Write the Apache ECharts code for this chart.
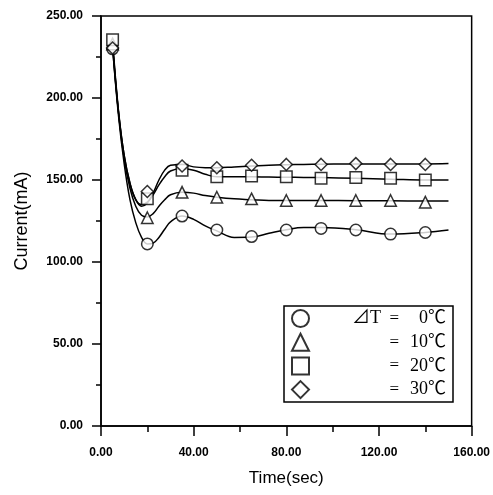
<!DOCTYPE html>
<html>
<head>
<meta charset="utf-8">
<script src="https://cdn.jsdelivr.net/npm/echarts@6/dist/echarts.min.js"></script>
<style>
html,body{margin:0;padding:0;background:#fff;}
#chart{width:493px;height:495px;}
</style>
</head>
<body>
<div id="chart"></div>
<script>
// Measured points (markers)
var times = [5, 20, 35, 50, 65, 80, 95, 110, 125, 140];
var cur0  = [230, 111, 128, 119.5, 115.5, 119.5, 120.5, 119.5, 117, 118];
var cur10 = [233, 127, 142.5, 139.5, 138.5, 137.5, 137.5, 137.5, 137.5, 136.5];
var cur20 = [235.5, 138.5, 156, 152, 152.5, 152, 151, 151.5, 151, 150];
var cur30 = [230.5, 143, 158.5, 157.5, 159, 159.5, 159.5, 160, 159.5, 159.5];

// Fitted curves
var fitT   = [5, 7.5, 10, 12.5, 15, 17.5, 20, 22.5, 25, 27.5, 30, 35, 40, 45, 50, 57.5, 65, 72.5, 80, 87.5, 95, 110, 125, 140, 150];
var fit0   = [231, 190, 160, 138, 124, 115, 111, 111.5, 115, 120, 124.5, 128, 126, 122, 119, 115, 115.2, 117.5, 119.7, 121, 121, 119.7, 117, 118, 119.5];
var fit10  = [233, 192, 163, 145, 134, 128.5, 127.5, 129.5, 134, 138, 141, 142.5, 142, 140.5, 139.5, 138.5, 138, 137.5, 137.5, 137.5, 137.5, 137.4, 137.3, 137.2, 137.2];
var fit20  = [235, 193, 165, 148, 138, 135, 136.5, 141, 147, 152, 155.5, 157, 156, 153.5, 152, 152, 152, 151.8, 151.7, 151.6, 151.5, 151, 150.5, 150, 150];
var fit30  = [231, 192, 165, 148, 138, 134, 136, 142, 150, 156, 159, 159.5, 158, 157.5, 157.5, 158, 158.5, 159, 159.3, 159.5, 159.6, 159.8, 159.8, 159.8, 160];

var names = ['0℃', '10℃', '20℃', '30℃'];
var symbols = ['circle', 'triangle', 'rect', 'diamond'];
var xTicks = {min: 0, max: 160, interval: 40};
var yTicks = {min: 0, max: 250, interval: 50};

function pairs(xs, ys) { return xs.map(function (x, i) { return [x, ys[i]]; }); }

var pts = [cur0, cur10, cur20, cur30];
var fits = [fit0, fit10, fit20, fit30];

var series = [];
fits.forEach(function (f, i) {
  series.push({
    name: 'fit' + i, type: 'line', data: pairs(fitT, f), smooth: 0.4,
    showSymbol: false, silent: true, z: 2,
    lineStyle: {color: '#000', width: 1.5}
  });
});
pts.forEach(function (p, i) {
  series.push({
    name: names[i], type: 'scatter', data: pairs(times, p),
    symbol: symbols[i], symbolSize: i === 3 ? 12 : 11.5, z: 3,
    itemStyle: {color: '#fff', borderColor: '#000', borderWidth: 1.5}
  });
});

var serif = '"Liberation Serif", "Noto Sans CJK KR", serif';
var chart = echarts.init(document.getElementById('chart'));
chart.setOption({
  animation: false,
  backgroundColor: '#fff',
  grid: {left: 101, right: 21, top: 16, bottom: 69, show: true, borderColor: '#000', borderWidth: 1.5},
  legend: {
    orient: 'vertical', left: 284, top: 306,
    padding: [3, 7, 3, 7], itemGap: 4.7, itemWidth: 17, itemHeight: 17,
    borderColor: '#000', borderWidth: 1.5, borderRadius: 0, backgroundColor: '#fff',
    data: names,
    formatter: function (n) {
      if (n === names[0]) return '{d|⊿T}{e|=}{v|' + n + '}';
      return '{d| }{e|=}{v|' + n + '}';
    },
    textStyle: {
      color: '#000', fontFamily: serif, fontSize: 17,
      rich: {
        d: {width: 67, align: 'right', fontFamily: serif, fontSize: 18, color: '#000'},
        e: {width: 18, align: 'right', fontFamily: serif, fontSize: 17, color: '#000'},
        v: {width: 47, align: 'right', fontFamily: serif, fontSize: 18, color: '#000'}
      }
    }
  },
  xAxis: {
    type: 'value', min: xTicks.min, max: xTicks.max, interval: xTicks.interval,
    name: 'Time(sec)', nameLocation: 'middle', nameGap: 44,
    nameTextStyle: {fontFamily: 'Liberation Sans, Arial', fontSize: 17, color: '#000'},
    axisLine: {lineStyle: {color: '#000', width: 1.5}},
    axisTick: {inside: false, length: 10, lineStyle: {color: '#000', width: 1.5}},
    minorTick: {show: true, splitNumber: 2, length: 6, lineStyle: {color: '#000', width: 1.5}},
    splitLine: {show: false},
    axisLabel: {margin: 21, color: '#000', fontFamily: 'Liberation Sans, Arial', fontWeight: 'bold', fontSize: 12,
      formatter: function (v) { return v.toFixed(2); }}
  },
  yAxis: {
    type: 'value', min: yTicks.min, max: yTicks.max, interval: yTicks.interval,
    name: 'Current(mA)', nameLocation: 'middle', nameGap: 70,
    nameTextStyle: {fontFamily: 'Liberation Sans, Arial', fontSize: 18, color: '#000'},
    axisLine: {lineStyle: {color: '#000', width: 1.5}},
    axisTick: {inside: false, length: 9, lineStyle: {color: '#000', width: 1.5}},
    minorTick: {show: true, splitNumber: 2, length: 5, lineStyle: {color: '#000', width: 1.5}},
    splitLine: {show: false},
    axisLabel: {margin: 18, color: '#000', fontFamily: 'Liberation Sans, Arial', fontWeight: 'bold', fontSize: 12,
      formatter: function (v) { return v.toFixed(2); }}
  },
  series: series
});
</script>
</body>
</html>
